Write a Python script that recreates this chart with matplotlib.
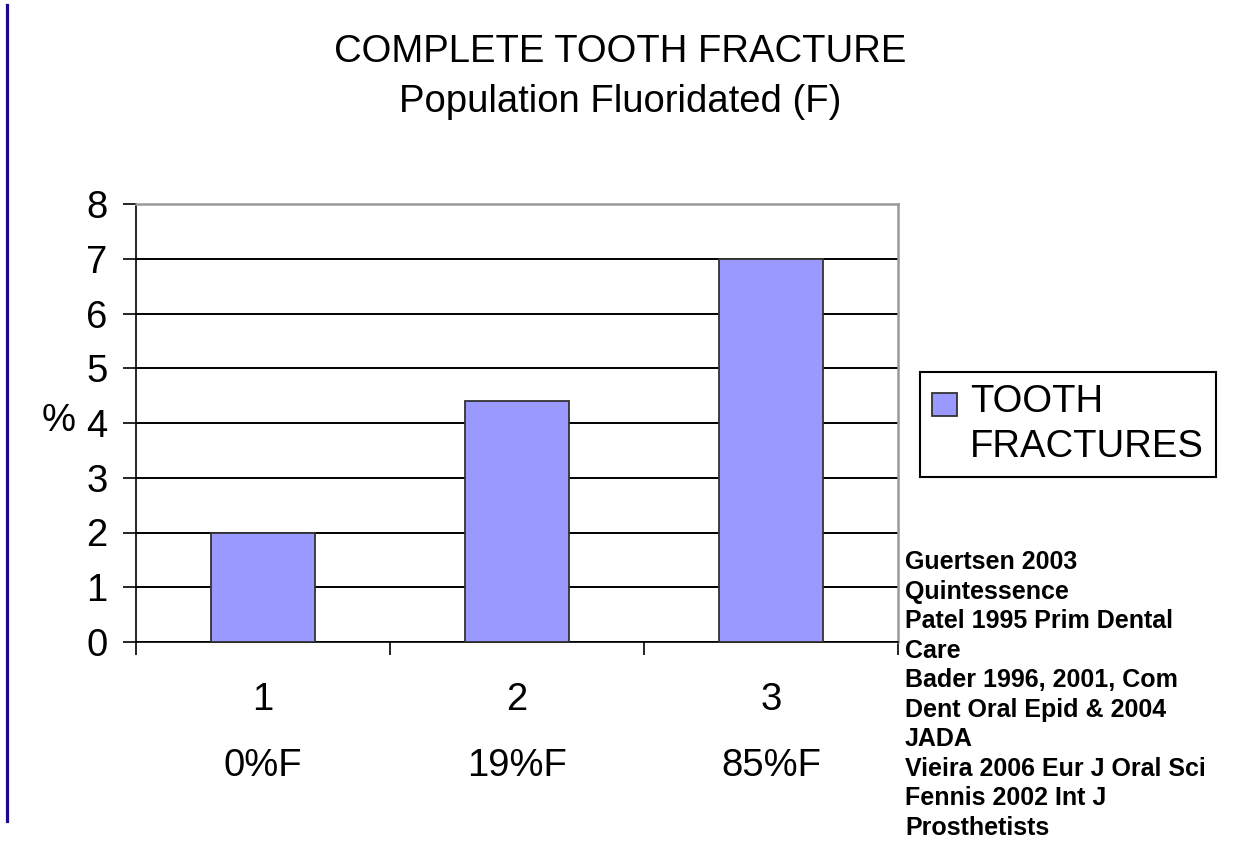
import matplotlib.pyplot as plt
from matplotlib.lines import Line2D
from matplotlib.patches import Rectangle
from matplotlib.container import BarContainer
from matplotlib.legend_handler import HandlerPatch, update_from_first_child

plt.rcParams['font.family'] = ['Liberation Sans', 'DejaVu Sans']

#%% Data #####################################################################
groups = [1, 2, 3]
fluoride = ['0%F', '19%F', '85%F']
fractures = [2.0, 4.4, 7.0]
series_name = 'TOOTH\nFRACTURES'
title = 'COMPLETE TOOTH FRACTURE\nPopulation Fluoridated (F)'
refs = ['Guertsen 2003', 'Quintessence', 'Patel 1995 Prim Dental', 'Care',
        'Bader 1996, 2001, Com', 'Dent Oral Epid & 2004', 'JADA',
        'Vieira 2006 Eur J Oral Sci', 'Fennis 2002 Int J', 'Prosthetists']

FS = 27.5


def upper_square(legend, orig_handle, xdescent, ydescent, width, height, fontsize):
    # legend box sits next to the first line of the label, not centred
    return Rectangle((-xdescent, 0.6 * fontsize - ydescent), width, 0.58 * fontsize)


#%% Plot #####################################################################
W, H = 1235, 844
fig = plt.figure(figsize=(W / 100, H / 100), dpi=100)
ax = fig.add_axes([136 / W, 1 - 642 / H, (898 - 136) / W, (642 - 204) / H])

ax.bar(groups, fractures, width=0.41, color='#9999ff', edgecolor='#333333',
       linewidth=1.3, label=series_name, zorder=3)

ax.set_xlim(0.5, 3.5)
ax.set_ylim(0, 8)
ax.set_yticks(range(0, 9))
ax.set_xticks([0.5, 1.5, 2.5, 3.5])
ax.set_xticklabels([])
ax.set_xticks(groups, minor=True)
ax.set_xticklabels([f'{g}\n{f}' for g, f in zip(groups, fluoride)], minor=True,
                   linespacing=2.05, fontsize=FS)
ax.tick_params(axis='x', which='minor', length=0, pad=29)
ax.tick_params(axis='x', which='major', length=9, width=1.2, direction='out')
ax.tick_params(axis='y', length=9.5, width=1.2, direction='out', pad=11,
               labelsize=FS)

ax.grid(axis='y', color='black', linewidth=1.4)
ax.set_axisbelow(True)
for s in ['top', 'right']:
    ax.spines[s].set_color('#999999')
    ax.spines[s].set_linewidth(1.8)
for s in ['left', 'bottom']:
    ax.spines[s].set_color('black')
    ax.spines[s].set_linewidth(1.2)

ax.set_ylabel('%', rotation=0, fontsize=FS, va='center', ha='center')
ax.yaxis.set_label_coords(-0.102, 0.505)

fig.text(0.502, 1 - 34 / H, title, ha='center', va='top', fontsize=FS,
         linespacing=1.5)

leg = ax.legend(loc='upper left', bbox_to_anchor=(920 / W, 1 - 372 / H),
                bbox_transform=fig.transFigure, borderaxespad=0,
                fontsize=FS, fancybox=False, framealpha=1, edgecolor='black',
                borderpad=0.32, handlelength=0.66, handletextpad=0.32,
                labelspacing=0.2,
                handler_map={BarContainer: HandlerPatch(
                    patch_func=upper_square, update_func=update_from_first_child)})
leg.get_frame().set_linewidth(1.5)
leg.get_texts()[0].set_linespacing(1.3)

fig.text(905 / W, 1 - 550 / H, '\n'.join(refs), ha='left', va='top',
         fontsize=18, fontweight='bold', linespacing=1.29)

fig.add_artist(Line2D([7 / W, 7 / W], [1 - 5 / H, 1 - 821 / H],
                      color='#1b0a8f', linewidth=2.3))

fig.savefig('out.png', dpi=100)
